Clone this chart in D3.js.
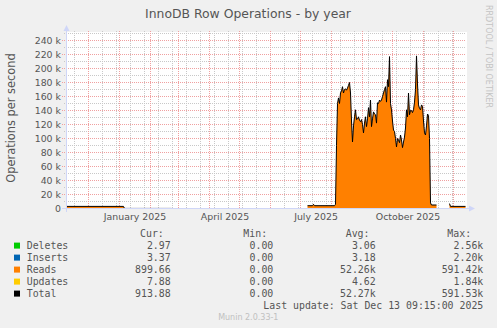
<!DOCTYPE html>
<html><head><meta charset="utf-8">
<script src="https://cdn.jsdelivr.net/npm/d3@7"></script>
<style>html,body{margin:0;padding:0;background:#f0f0f0;}svg{display:block}</style>
</head><body>
<svg id="c" width="497" height="328"></svg>
<script>
// ---------- data ----------
const chartTitle = "InnoDB Row Operations - by year";
const yAxisTitle = "Operations per second";
const yTickValues = [0,20000,40000,60000,80000,100000,120000,140000,160000,180000,200000,220000,240000];
const xLabelNames = ["January 2025","April 2025","July 2025","October 2025"];
const xLabelDates = ["2025-01-16T12:00Z","2025-04-16T12:00Z","2025-07-16T12:00Z","2025-10-16T12:00Z"];

// Reads (thousand ops/s); null = no data
const dates = [
 "2024-11-08","2025-01-05","2025-01-06","2025-02-22","2025-04-15",
 "2025-07-08","2025-07-13","2025-07-14","2025-07-15","2025-08-04",
 "2025-08-05","2025-08-06","2025-08-07","2025-08-08","2025-08-09","2025-08-10","2025-08-11","2025-08-12","2025-08-13","2025-08-14",
 "2025-08-15","2025-08-16","2025-08-17","2025-08-18","2025-08-19","2025-08-20","2025-08-21","2025-08-22","2025-08-23","2025-08-24",
 "2025-08-25","2025-08-26","2025-08-27","2025-08-28","2025-08-29","2025-08-30","2025-08-31","2025-09-01","2025-09-02","2025-09-03",
 "2025-09-04","2025-09-05","2025-09-06","2025-09-07","2025-09-08","2025-09-09","2025-09-10","2025-09-11","2025-09-12","2025-09-13",
 "2025-09-14","2025-09-15","2025-09-16","2025-09-17","2025-09-18","2025-09-19","2025-09-20","2025-09-21","2025-09-22","2025-09-23",
 "2025-09-24","2025-09-25","2025-09-26","2025-09-27","2025-09-28","2025-09-29","2025-09-30","2025-10-01","2025-10-02","2025-10-03",
 "2025-10-04","2025-10-05","2025-10-06","2025-10-07","2025-10-08","2025-10-09","2025-10-10","2025-10-11","2025-10-12","2025-10-13",
 "2025-10-14","2025-10-15","2025-10-16","2025-10-17","2025-10-18","2025-10-19","2025-10-20","2025-10-21","2025-10-22","2025-10-23",
 "2025-10-24","2025-10-25","2025-10-26","2025-10-27","2025-10-28","2025-10-29","2025-10-30","2025-10-31","2025-11-01","2025-11-02",
 "2025-11-03","2025-11-04","2025-11-05","2025-11-06","2025-11-07","2025-11-08","2025-11-09","2025-11-14","2025-11-20",
 "2025-11-27","2025-11-28","2025-12-13"
];
const reads = [
 3.0,3.0,0.1,0.1,null,
 4.0,4.0,6.0,4.0,4.0,
 6,90,150,158,150,165,168,174,165,170,
 171,169,172,176,180,165,125,95,118,131,
 141,127,128,131,126,124,127,120,108,122,
 131,117,128,144,131,155,117,128,138,135,
 134,122,151,150,155,153,155,160,165,170,
 174,152,184,174,217,150,141,125,112,110,
 100,88,100,98,94,105,98,87,95,102,
 115,141,131,165,134,140,140,137,141,152,
 170,218,178,148,143,141,148,146,125,108,
 105,118,135,133,100,8,5,5,null,
 7,3,3
];

const seriesNames = ["Deletes","Inserts","Reads","Updates","Total"];
const seriesColors = ["#00cc00","#0066b3","#ff8000","#ffcc00","#000000"];
const curVals = ["2.97","3.37","899.66","7.88","913.88"];
const minVals = ["0.00","0.00","0.00","0.00","0.00"];
const avgVals = ["3.06","3.18","52.26k","4.62","52.27k"];
const maxVals = ["2.56k","2.20k","591.42k","1.84k","591.53k"];
const lastUpdate = "Last update: Sat Dec 13 09:15:00 2025";
const footer = "Munin 2.0.33-1";
const watermark = "RRDTOOL / TOBI OETIKER";

// ---------- drawing ----------
const svg = d3.select("#c");
const FONT = "'DejaVu Sans', Verdana, sans-serif";
const MONO = "'DejaVu Sans Mono', monospace";
const TXT = "#555555";

svg.append("rect").attr("width",497).attr("height",328).attr("fill","#f0f0f0");

const x = d3.scaleUtc()
  .domain([new Date(Date.UTC(2024,10,8,9,15)), new Date(Date.UTC(2025,11,13,9,15))])
  .range([65.9, 465.9]);
const y = d3.scaleLinear().domain([0,250000]).range([208.5,33.5]);

// canvas
svg.append("rect").attr("x",66).attr("y",32).attr("width",401).attr("height",177).attr("fill","#ffffff");

const snap = v => Math.floor(v)+0.5;
const grid = svg.append("g");
// minor horizontal
d3.range(10000,250001,10000).forEach(v=>{
  grid.append("line").attr("x1",64).attr("x2",466).attr("y1",snap(y(v))).attr("y2",snap(y(v)))
    .attr("stroke","#c8c8c8").attr("stroke-dasharray","1,1");
});
// minor vertical (every 2 weeks)
const minorX = d3.utcDay.every(14).range ? null : null;
let t = new Date(Date.UTC(2024,10,17));
while (t < x.domain()[1]) {
  const px = snap(x(t));
  grid.append("line").attr("x1",px).attr("x2",px).attr("y1",31).attr("y2",208)
    .attr("stroke","#c8c8c8").attr("stroke-dasharray","1,1");
  t = d3.utcDay.offset(t,14);
}
// major horizontal
yTickValues.filter(v=>v>0).forEach(v=>{
  grid.append("line").attr("x1",62).attr("x2",466).attr("y1",snap(y(v))).attr("y2",snap(y(v)))
    .attr("stroke","#f0a0a0").attr("stroke-dasharray","1,1");
});
// major vertical (months)
d3.utcMonth.range(x.domain()[0], x.domain()[1]).forEach(m=>{
  const px = snap(x(m));
  grid.append("line").attr("x1",px).attr("x2",px).attr("y1",31).attr("y2",208)
    .attr("stroke","#f0a0a0").attr("stroke-dasharray","1,1");
});

// data
const pts = dates.map((d,i)=>({t:new Date(d+"T00:00Z"), v: reads[i]==null?null:reads[i]*1000}));
svg.append("clipPath").attr("id","clp").append("rect").attr("x",66).attr("y",30).attr("width",400).attr("height",179);
const g = svg.append("g").attr("clip-path","url(#clp)");
const area = d3.area().defined(d=>d.v!=null).x(d=>x(d.t)).y0(y(0)).y1(d=>y(d.v));
const line = d3.line().defined(d=>d.v!=null).x(d=>x(d.t)).y(d=>y(d.v));
g.append("path").attr("d",area(pts)).attr("fill","#ff8000");
g.append("path").attr("d",line(pts)).attr("fill","none").attr("stroke","#000").attr("stroke-width",1);

// axes
const AX = "#cfd6f8";
svg.append("line").attr("x1",62).attr("x2",471).attr("y1",208.5).attr("y2",208.5).attr("stroke",AX);
svg.append("line").attr("x1",66.5).attr("x2",66.5).attr("y1",212).attr("y2",29).attr("stroke",AX);
svg.append("path").attr("d","M469,205.5 L475,208.5 L469,211.5 Z").attr("fill",AX);
svg.append("path").attr("d","M63.5,31 L66.5,25 L69.5,31 Z").attr("fill",AX);

// y labels
yTickValues.forEach(v=>{
  svg.append("text").attr("x",61).attr("y",y(v)+3.4).attr("text-anchor","end")
    .attr("font-family",FONT).attr("font-size","9.4px").attr("fill",TXT)
    .text(v===0?"0":(v/1000)+" k");
});
// x labels
xLabelNames.forEach((n,i)=>{
  svg.append("text").attr("x",x(new Date(xLabelDates[i]))).attr("y",219.5).attr("text-anchor","middle")
    .attr("font-family",FONT).attr("font-size","9.4px").attr("fill",TXT).text(n);
});
// title
svg.append("text").attr("x",248).attr("y",17.7).attr("text-anchor","middle")
  .attr("font-family",FONT).attr("font-size","12.4px").attr("fill",TXT).text(chartTitle);
// y title
svg.append("text").attr("transform","translate(14.8,118) rotate(-90)").attr("text-anchor","middle")
  .attr("font-family",FONT).attr("font-size","11.4px").attr("fill",TXT).text(yAxisTitle);
// watermark
svg.append("text").attr("transform","translate(486,5) rotate(90)").attr("text-anchor","start")
  .attr("font-family",FONT).attr("font-size","8px").attr("fill","#c4c4c4").text(watermark);

// legend
const LF = "9.9px";
const hdr = [["Cur:",140],["Min:",243.3],["Avg:",345.7],["Max:",447.3]];
hdr.forEach(h=>svg.append("text").attr("x",h[1]).attr("y",236.8).attr("font-family",MONO)
  .attr("font-size",LF).attr("fill",TXT).text(h[0]));
const colsEnd = [170.7,273.3,375.7,483.3];
seriesNames.forEach((n,i)=>{
  const by = 249.2 + 12*i;
  svg.append("rect").attr("x",14).attr("y",by-6.6).attr("width",6).attr("height",6).attr("fill",seriesColors[i]);
  svg.append("text").attr("x",26.7).attr("y",by).attr("font-family",MONO).attr("font-size",LF).attr("fill",TXT).text(n);
  [curVals,minVals,avgVals,maxVals].forEach((arr,j)=>{
    svg.append("text").attr("x",colsEnd[j]).attr("y",by).attr("text-anchor","end")
      .attr("font-family",MONO).attr("font-size",LF).attr("fill",TXT).text(arr[i]);
  });
});
svg.append("text").attr("x",483.3).attr("y",308.8).attr("text-anchor","end")
  .attr("font-family",MONO).attr("font-size",LF).attr("fill",TXT).text(lastUpdate);
svg.append("text").attr("x",248.3).attr("y",320).attr("text-anchor","middle")
  .attr("font-family",FONT).attr("font-size","8px").attr("fill","#c0c0c0").text(footer);
</script>
</body></html>
